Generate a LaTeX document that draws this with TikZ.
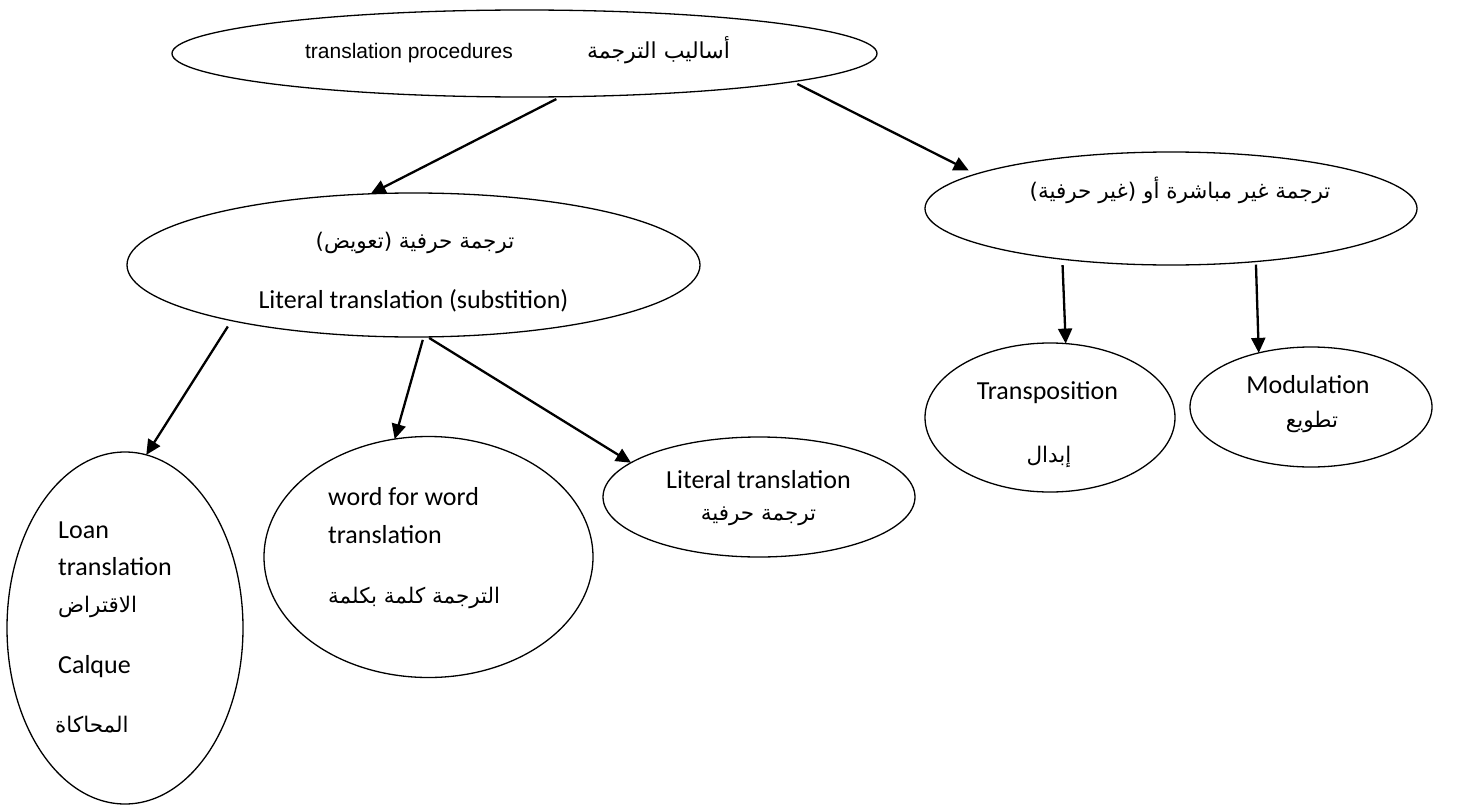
\documentclass[tikz,border=0pt]{standalone}
\usepackage{fontspec}
\setmainfont{Liberation Sans}
\newfontfamily\arabicfont[Script=Arabic]{DejaVu Sans}
\newfontfamily\calfont{Carlito}
\TeXXeTstate=1
\usetikzlibrary{shapes.geometric,arrows.meta}

\tikzset{
  oval/.style={ellipse, draw, line width=1.3pt, inner sep=0pt, outer sep=0pt},
  en/.style={font=\calfont\fontsize{26}{30}\selectfont, inner sep=0pt, anchor=base},
  arb/.style={font=\arabicfont\fontsize{21.5}{25}\selectfont, inner sep=0pt, anchor=base},
  link/.style={->, line width=2.3pt},
}

\begin{document}
\begin{tikzpicture}[x=1pt,y=-1pt,>={Triangle[length=15pt,width=14pt]}]
\useasboundingbox (0,0) rectangle (1461,808);
% the ovals
\node[oval, minimum width=705pt, minimum height=87pt]  (top)   at (524.5,53.5) {};
\node[oval, minimum width=573pt, minimum height=144pt] (lsub)  at (413.5,265) {};
\node[oval, minimum width=492pt, minimum height=113pt] (indir) at (1171,208.5) {};
\node[oval, minimum width=236pt, minimum height=352pt] (loan)  at (125,628) {};
\node[oval, minimum width=329pt, minimum height=241pt] (wfw)   at (428.5,557) {};
\node[oval, minimum width=312pt, minimum height=120pt] (lit)   at (759,497) {};
\node[oval, minimum width=250pt, minimum height=149pt] (trans) at (1050,417.5) {};
\node[oval, minimum width=242pt, minimum height=120pt] (modu)  at (1311,407) {};

% texts
\node[font=\fontsize{21}{25}\selectfont, inner sep=0pt, anchor=base] (topEn) at (409,59) {translation procedures};
\node[arb, font=\arabicfont\fontsize{22}{26}\selectfont] (topAr) at (658.5,59) {\beginR أساليب الترجمة\endR};

\node[arb] (lsubAr) at (415,248) {\beginR ترجمة حرفية (تعويض)\endR};
\node[en]  (lsubEn) at (413.5,308) {Literal translation (substition)};

\node[arb] (indirAr) at (1180,198) {\beginR ترجمة غير مباشرة أو (غير حرفية)\endR};

\node[en, anchor=base west]  (loanA) at (58,538) {Loan};
\node[en, anchor=base west]  (loanB) at (58,575) {translation};
\node[arb, anchor=base west] (loanC) at (58,612) {\beginR الاقتراض\endR};
\node[en, anchor=base west]  (loanD) at (58,673) {Calque};
\node[arb, anchor=base west] (loanE) at (55,732) {\beginR المحاكاة\endR};

\node[en, anchor=base west]  (wfwA) at (328,505) {word for word};
\node[en, anchor=base west]  (wfwB) at (328,543) {translation};
\node[arb, anchor=base west] (wfwC) at (328,603) {\beginR الترجمة كلمة بكلمة\endR};

\node[en]  (litEn) at (758.5,488) {Literal translation};
\node[arb] (litAr) at (758.5,520) {\beginR ترجمة حرفية\endR};

\node[en]  (transEn) at (1047.5,399) {Transposition};
\node[arb] (transAr) at (1049,462) {\beginR إبدال\endR};

\node[en]  (moduEn) at (1308,393) {Modulation};
\node[arb] (moduAr) at (1312,427) {\beginR تطويع\endR};

% arrows
\draw[link, shorten <=5pt] (top.-50) -- (lsub.121);
\draw[link, shorten <=5pt, shorten >=8pt] (top.-6) -- (indir.170.5);
\draw[link, shorten <=7pt] (lsub.197.5) -- (loan.83);
\draw[link, shorten <=3pt] (lsub.-82.5) -- (wfw.106.8);
\draw[link, shorten <=2pt] (lsub.-79.4) -- (lit.165);
\draw[link, shorten <=6pt] (indir.-155.6) -- (trans.78.5);
\draw[link, shorten <=3pt] (indir.-32.7) -- (modu.134.5);
\end{tikzpicture}
\end{document}
